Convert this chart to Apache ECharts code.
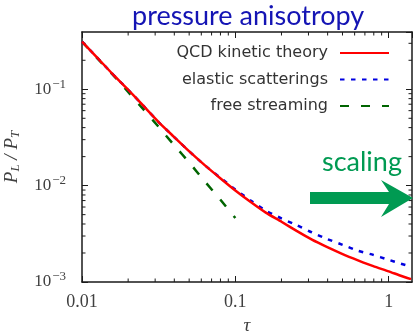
<!DOCTYPE html>
<html><head><meta charset="utf-8">
<script src="https://cdn.jsdelivr.net/npm/echarts@6/dist/echarts.min.js"></script>
<style>html,body{margin:0;padding:0;background:#fff}#c{width:413px;height:334px}</style>
</head><body><div id="c"></div>
<script>
// ---- data ----
const tau = [0.01, 0.0126, 0.0158, 0.02, 0.0251, 0.0316, 0.0398, 0.0501, 0.0631, 0.0794, 0.1, 0.126, 0.158, 0.2, 0.251, 0.316, 0.398, 0.501, 0.631, 0.794, 1.0, 1.2, 1.4];
const qcdKinetic = [0.312, 0.212, 0.1445, 0.0989, 0.0675, 0.0457, 0.0321, 0.02265, 0.01633, 0.01202, 0.00891, 0.00676, 0.00525, 0.00422, 0.00339, 0.00275, 0.0023, 0.00195, 0.00168, 0.00146, 0.00129, 0.00116, 0.00107];
const elasticScatterings = [0.312, 0.212, 0.1445, 0.0989, 0.0675, 0.0457, 0.0321, 0.02265, 0.01633, 0.01216, 0.00912, 0.0070, 0.0055, 0.00457, 0.00389, 0.00327, 0.00279, 0.00243, 0.00211, 0.00191, 0.0017, 0.00155, 0.00145];
const freeStreaming = [0.312, 0.209, 0.1426, 0.0938, 0.0621, 0.0407, 0.0264, 0.01734, 0.0111, 0.00723, 0.00462];
const seriesNames = ['QCD kinetic theory', 'elastic scatterings', 'free streaming'];
const xMinorTicks = [0.02, 0.03, 0.04, 0.05, 0.06, 0.07, 0.08, 0.09, 0.2, 0.3, 0.4, 0.5, 0.6, 0.7, 0.8, 0.9];
const yMinorTicks = [0.002, 0.003, 0.004, 0.005, 0.006, 0.007, 0.008, 0.009, 0.02, 0.03, 0.04, 0.05, 0.06, 0.07, 0.08, 0.09, 0.2, 0.3];
const xMin = 0.01, xMax = 1.42, yMin = 0.001, yMax = 0.393;
const titleText = 'pressure anisotropy';
const annotationText = 'scaling';

const pair = (xs, ys) => ys.map((y, i) => [xs[i], y]);

const chart = echarts.init(document.getElementById('c'), null, {renderer: 'canvas'});
const axisColor = '#1a1a1a';
const labelColor = '#404040';

function minorX(params, api) {
  const cs = params.coordSys;
  const x = api.coord([api.value(0), yMin])[0];
  const st = {stroke: axisColor, lineWidth: 1};
  return {type: 'group', children: [
    {type: 'line', shape: {x1: x, y1: cs.y + cs.height, x2: x, y2: cs.y + cs.height - 3.5}, style: st},
    {type: 'line', shape: {x1: x, y1: cs.y, x2: x, y2: cs.y + 3.5}, style: st}
  ]};
}
function minorY(params, api) {
  const cs = params.coordSys;
  const y = api.coord([xMin, api.value(1)])[1];
  const st = {stroke: axisColor, lineWidth: 1};
  return {type: 'group', children: [
    {type: 'line', shape: {x1: cs.x, y1: y, x2: cs.x + 3.5, y2: y}, style: st},
    {type: 'line', shape: {x1: cs.x + cs.width, y1: y, x2: cs.x + cs.width - 3.5, y2: y}, style: st}
  ]};
}

const xBase = {
  type: 'log', logBase: 10, min: xMin, max: xMax,
  axisLine: {show: true, lineStyle: {color: axisColor, width: 1.5}},
  axisTick: {show: true, inside: true, length: 6, lineStyle: {color: axisColor, width: 1}},
  splitLine: {show: false}, minorTick: {show: false}
};
const yBase = {
  type: 'log', logBase: 10, min: yMin, max: yMax,
  axisLine: {show: true, lineStyle: {color: axisColor, width: 1.5}},
  axisTick: {show: true, inside: true, length: 6, lineStyle: {color: axisColor, width: 1}},
  splitLine: {show: false}, minorTick: {show: false}
};

const option = {
  animation: false,
  backgroundColor: '#fff',
  title: {
    text: titleText, left: 132, top: 3, padding: 0,
    textStyle: {fontFamily: 'Lato', fontWeight: 'normal', fontSize: 27, color: '#1414b4'}
  },
  grid: {left: 82, right: 1, top: 32, bottom: 52, containLabel: false, outerBoundsMode: 'none'},
  legend: {
    data: seriesNames, orient: 'vertical', align: 'right', padding: 0,
    right: 23, top: 45, itemWidth: 49, itemHeight: 14, itemGap: 10.5,
    itemStyle: {opacity: 0},
    textStyle: {fontFamily: 'DejaVu Sans', fontSize: 16, color: '#333', padding: [0, 7, 0, 0]}
  },
  xAxis: [
    Object.assign({}, xBase, {
      position: 'bottom',
      name: 'τ', nameLocation: 'middle', nameGap: 34,
      nameTextStyle: {fontFamily: 'Liberation Serif', fontStyle: 'italic', fontSize: 19, color: labelColor},
      axisLabel: {show: true, margin: 11, showMaxLabel: false, fontFamily: 'Liberation Serif', fontSize: 18, color: labelColor,
        formatter: v => String(v)}
    }),
    Object.assign({}, xBase, {position: 'top', axisLabel: {show: false}})
  ],
  yAxis: [
    Object.assign({}, yBase, {
      position: 'left',
      name: '{i|P}{s|L}{i| / P}{s|T}', nameLocation: 'middle', nameGap: 60, nameRotate: 90,
      nameTextStyle: {color: labelColor, rich: {
        i: {fontFamily: 'Liberation Serif', fontStyle: 'italic', fontSize: 19, color: labelColor},
        s: {fontFamily: 'Liberation Serif', fontStyle: 'italic', fontSize: 13, color: labelColor, verticalAlign: 'bottom', padding: [8, 0, 0, 0]}
      }},
      axisLabel: {show: true, margin: 16, showMaxLabel: false, color: labelColor,
        formatter: v => '{b|10}{e|−' + Math.abs(Math.round(Math.log10(v))) + '}',
        rich: {
          b: {fontFamily: 'Liberation Serif', fontSize: 17, color: labelColor},
          e: {fontFamily: 'Liberation Serif', fontSize: 13, color: labelColor, verticalAlign: 'top', padding: [0, 0, 10, 1]}
        }}
    }),
    Object.assign({}, yBase, {position: 'right', axisLabel: {show: false}})
  ],
  graphic: [
    {type: 'text', left: 322, top: 149, z: 100,
      style: {text: annotationText, font: '27px Lato', fill: '#009a52'}},
    {type: 'polygon', z: 100,
      shape: {points: [[310, 192], [389, 192], [381, 180], [413, 198], [381, 217], [389, 204], [310, 204]]},
      style: {fill: '#009a52'}}
  ],
  series: [
    {type: 'custom', renderItem: minorX, data: xMinorTicks.map(v => [v, yMin]), silent: true, z: 1, clip: false},
    {type: 'custom', renderItem: minorY, data: yMinorTicks.map(v => [xMin, v]), silent: true, z: 1, clip: false},
    {name: seriesNames[2], type: 'line', data: pair(tau, freeStreaming), symbol: 'none', smooth: 0.2, z: 3,
      lineStyle: {color: '#006400', width: 2.5, type: [9, 12]}, itemStyle: {color: '#006400'}},
    {name: seriesNames[1], type: 'line', data: pair(tau, elasticScatterings), symbol: 'none', smooth: 0.2, z: 4,
      lineStyle: {color: '#0000e0', width: 2.5, type: [4.5, 6.5]}, itemStyle: {color: '#0000e0'}},
    {name: seriesNames[0], type: 'line', data: pair(tau, qcdKinetic), symbol: 'none', smooth: 0.2, z: 5,
      lineStyle: {color: '#ff0000', width: 2.5}, itemStyle: {color: '#ff0000'}}
  ]
};
chart.setOption(option);
</script>
</body></html>
